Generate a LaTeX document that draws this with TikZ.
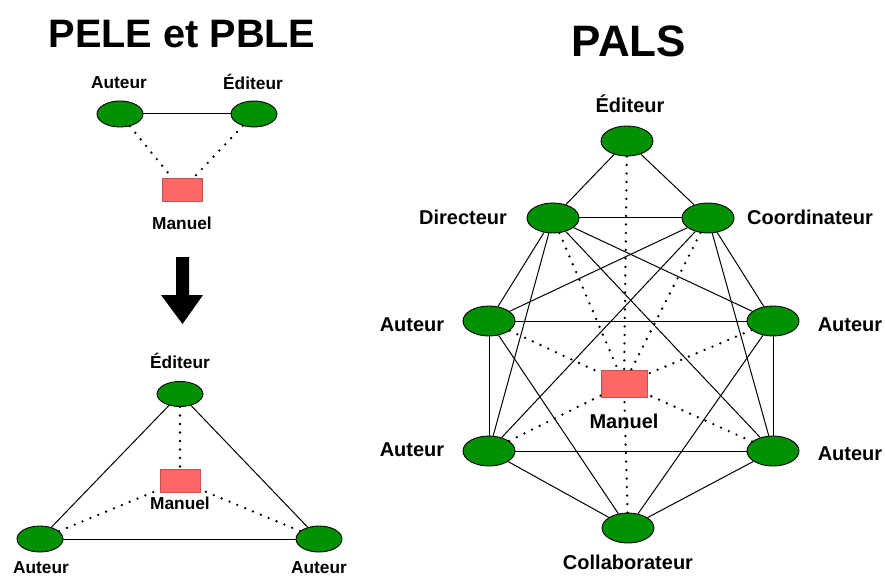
\documentclass[tikz,border=0pt]{standalone}
\usepackage{fontspec}
\setmainfont{Liberation Sans}
\usetikzlibrary{shapes.geometric}
\definecolor{gr}{RGB}{0,145,0}
\definecolor{bookfill}{RGB}{255,102,102}
\definecolor{bookedge}{RGB}{200,80,80}
\begin{document}
\begin{tikzpicture}[x=1pt,y=-1pt,
 actor/.style={ellipse, draw=black, fill=gr, line width=0.9pt, minimum width=52pt, minimum height=30pt, inner sep=0pt},
 sactor/.style={actor, minimum width=46pt, minimum height=26pt},
 book/.style={rectangle, draw=bookedge, fill=bookfill, line width=0.7pt, minimum width=46pt, minimum height=27pt, inner sep=0pt},
 sbook/.style={book, minimum width=40pt, minimum height=23pt},
 lab/.style={font=\bfseries\fontsize{20}{24}\selectfont, inner sep=0pt},
 slab/.style={font=\bfseries\fontsize{17.3}{20}\selectfont, inner sep=0pt},
 link/.style={line width=1pt},
 dots/.style={line width=2.6pt, dash pattern=on 0pt off 8.5pt, line cap=round}]
\useasboundingbox[fill=white] (0,0) rectangle (885,577);

% ---------- titles ----------
\node[font=\bfseries\fontsize{39.7}{44}\selectfont, inner sep=0pt] (t1) at (182,34) {PELE et PBLE};
\node[font=\bfseries\fontsize{44}{50}\selectfont, inner sep=0pt] (t2) at (629,41) {PALS};

% ---------- top left ----------
\node[sactor] (la) at (120,114) {};
\node[sactor] (le) at (254,114) {};
\node[sbook] (lm) at (182,190) {};
\node[slab] (lal) at (119,83) {Auteur};
\node[slab] (lel) at (253,82) {Éditeur};
\node[slab] (lml) at (182,223) {Manuel};
\draw[link] (la) -- (le);
\draw[dots] (la) -- (lm);
\draw[dots] (le) -- (lm);

% ---------- arrow ----------
\fill[black] (176,257) -- (189,257) -- (189,295) -- (203,295) -- (182.5,324) -- (161,295) -- (176,295) -- cycle;

% ---------- bottom left ----------
\node[sactor, minimum height=25pt] (be) at (180,394) {};
\node[sactor] (ba) at (40,539) {};
\node[sactor] (bb) at (319,539) {};
\node[sbook] (bm) at (180,481) {};
\node[slab] (bel) at (180,361) {Éditeur};
\node[slab] (bal) at (41,568) {Auteur};
\node[slab] (bbl) at (319,568) {Auteur};
\draw[link] (be) -- (ba);
\draw[link] (be) -- (bb);
\draw[link] (ba) -- (bb);
\draw[dots] (be) -- (bm);
\draw[dots] (ba) -- (bm);
\draw[dots] (bb) -- (bm);
\node[slab] (bml) at (180,503) {Manuel};

% ---------- PALS ----------
\node[actor] (E) at (627,141) {};
\node[actor] (D) at (553,218) {};
\node[actor] (C) at (708,218) {};
\node[actor] (A1) at (489,321) {};
\node[actor] (A2) at (773,321) {};
\node[actor] (A3) at (489,451) {};
\node[actor] (A4) at (773,451) {};
\node[actor] (Co) at (628,528) {};
\node[book] (M) at (624,384) {};

\node[lab] (El) at (630,104) {Éditeur};
\node[lab] (Dl) at (463,217) {Directeur};
\node[lab] (Cl) at (810,217) {Coordinateur};
\node[lab] (A1l) at (412,325) {Auteur};
\node[lab] (A2l) at (850,325) {Auteur};
\node[lab] (A3l) at (412,450) {Auteur};
\node[lab] (A4l) at (850,454) {Auteur};
\node[lab] (Col) at (628,562) {Collaborateur};

\draw[link] (E) -- (D);
\draw[link] (E) -- (C);
\draw[link] (D) -- (C);
\draw[link] (D) -- (A1);
\draw[link] (D) -- (A2);
\draw[link] (D) -- (A3);
\draw[link] (D) -- (A4);
\draw[link] (C) -- (A1);
\draw[link] (C) -- (A2);
\draw[link] (C) -- (A3);
\draw[link] (C) -- (A4);
\draw[link] (A1) -- (A2);
\draw[link] (A3) -- (A4);
\draw[link] (A1) -- (A3);
\draw[link] (A2) -- (A4);
\draw[link] (A1) -- (Co);
\draw[link] (A2) -- (Co);
\draw[link] (A3) -- (Co);
\draw[link] (A4) -- (Co);
\foreach \n in {E,D,C,A1,A2,A3,A4,Co}{\draw[dots] (\n) -- (M);}
\node[lab] (Ml) at (624,421) {Manuel};
\end{tikzpicture}
\end{document}
